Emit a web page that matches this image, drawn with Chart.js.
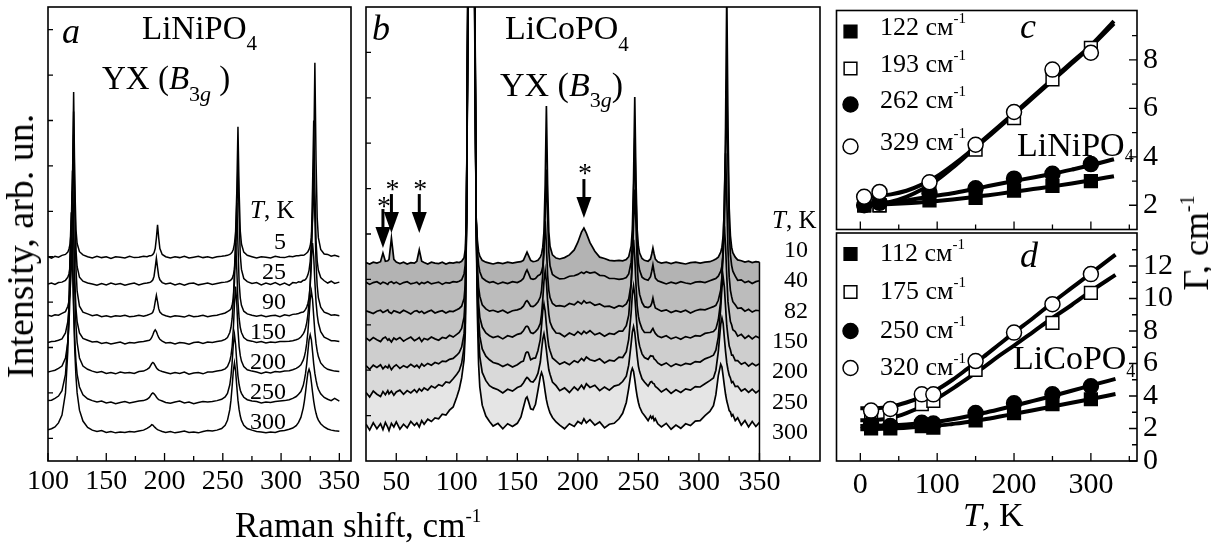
<!DOCTYPE html>
<html>
<head>
<meta charset="utf-8">
<script src="https://cdn.jsdelivr.net/npm/chart.js@4.4.1/dist/chart.umd.min.js"></script>
<style>
html, body { margin: 0; padding: 0; background: #fff; }
#wrap { position: relative; width: 1211px; height: 544px; overflow: hidden; background: #fff; }
canvas { position: absolute; top: 0; }
.txt { position: absolute; line-height: 1; white-space: nowrap; color: #000;
       font-family: 'Liberation Serif', 'Times New Roman', serif; }
.sub, .sup { position: relative; }
</style>
</head>
<body>
<div id="wrap">
  <canvas id="chA" width="362" height="544" style="left:0px"></canvas>
  <canvas id="chB" width="478" height="544" style="left:352px"></canvas>
  <canvas id="chD" width="385" height="544" style="left:826px"></canvas>
  <canvas id="chC" width="385" height="240" style="left:826px"></canvas>
</div>
<script>
// ---------- panel a : LiNiPO4 spectra ----------
const ramanA = [100,103,106,109,112,115,117,118,119,120,121,122,123,124,125,127,130,134,138,142,
  146,150,154,158,162,166,170,174,178,182,185,187,188,189,190,191,192,193,194,195,
  196,198,201,205,209,213,217,221,225,229,233,237,241,245,249,252,254,256,257,258,
  259,260,261,262,263,264,265,266,268,271,275,279,283,287,291,295,299,303,307,310,
  313,315,317,319,320,321,322,323,324,325,326,327,328,329,330,331,332,334,337,340,
  343,346,350];
const tempsA = [5, 25, 90, 150, 200, 250, 300];
const offsetA = [44.9, 39.0, 31.9, 26.0, 19.4, 12.8, 6.2];
const specA5 = [0.1,-0.2,0.2,0,0.4,0.6,1.1,1.8,3,6.1,
  16.3,36.4,16.3,6.1,3,1.2,0.5,0.1,-0.2,0.2,
  -0.1,0.1,-0.3,0.1,0,-0.2,0.2,-0.1,0,0.2,
  0.1,0.3,0.3,0.4,0.6,1,1.9,4.2,7.1,4.2,
  1.9,0.6,0.1,-0.2,0.1,-0.1,0.2,-0.2,0,0.2,
  -0.1,0.1,-0.2,0.1,0.2,0.3,0.4,0.6,0.8,1.1,
  1.7,2.9,5.7,14.4,28.7,14.4,5.7,2.9,1.1,0.4,
  0.1,-0.2,0.1,0,-0.2,0.2,0,-0.1,0.2,0.1,
  0.3,0.3,0.4,0.4,0.5,0.7,0.9,1.2,1.7,2.5,
  4.3,8.6,21.4,42.8,21.4,8.6,4.3,1.7,0.7,0.6,
  0.2,0.4,0.1];
const specA25 = [0,0.2,-0.1,0.3,0.4,0.8,1.5,2.2,3.8,7.6,
  19,38,19,7.6,3.8,1.5,0.6,0.2,0,-0.3,
  0.1,-0.2,0.2,-0.1,0.1,-0.3,0,0.2,-0.2,0.1,
  0.2,0.3,0.4,0.6,0.9,1.7,3.6,5.7,3.6,1.7,
  0.9,0.3,0,0.2,-0.2,0.1,-0.3,0.1,0.2,-0.2,
  0,0.2,-0.1,0.1,0.3,0.4,0.5,0.7,0.9,1.2,
  1.9,3.2,6.3,14.8,27,14.8,6.3,3.2,1.2,0.5,
  0.1,0.3,-0.2,0.2,-0.1,0.3,-0.2,0.2,-0.3,0.3,
  0.2,0.5,0.4,0.8,0.8,1,1.4,2,3,5,
  9.5,21.3,36,21.3,9.5,5,3,1.4,0.7,0.2,
  0.6,0.1,0.4];
const specA90 = [0.2,0,0.3,0.2,0.6,1,2.2,3.3,5.5,10.6,
  23.7,40,23.7,10.6,5.5,2.2,0.9,0.5,0.1,0.3,
  -0.1,0.1,-0.2,0.1,0,0.2,-0.1,0,0.2,0,
  0.2,0.4,0.5,0.6,0.9,1.65,3.2,4.6,3.2,1.65,
  0.9,0.4,0.1,-0.2,0.1,0,-0.2,0.2,-0.1,0,
  0.2,-0.1,0.1,0.2,0.5,0.7,1,1.3,1.6,2.4,
  4,7.4,15.7,25,15.7,7.4,4,2.4,1.1,0.5,
  0.2,0,0.2,-0.1,0.1,0.2,-0.1,0.3,0.1,0.4,
  0.5,0.6,0.8,0.9,1.15,1.5,2,2.8,4.1,6.7,
  11.7,21.6,30,21.6,11.7,6.7,4.1,2,0.9,0.6,
  0.2,0.3,0.1];
const specA150 = [0.1,0.3,0.4,0.6,0.9,2.2,4.7,7.6,13.7,26.3,
  38,26.3,13.7,7.6,4.7,2.2,1,0.6,0.2,0.3,
  -0.1,0.1,-0.2,0,0.2,-0.2,0.1,0,0.2,0.3,
  0.5,0.6,0.8,1.2,1.8,2.5,2.9,2.5,1.8,1.2,
  0.8,0.4,0,0.1,-0.2,0.1,0,-0.3,0.1,0.2,
  -0.1,0.2,0.1,0.3,0.5,0.8,1.2,2.3,3.4,5.4,
  9.2,16.3,22,16.3,9.2,5.4,3.4,2.3,1.2,0.6,
  0.4,0.1,0.3,0,0.2,0.1,0.3,0.3,0.4,0.5,
  0.7,0.9,1.3,2,2.5,3.3,4.4,6.2,9,13.4,
  19,22,19,13.4,9,6.2,4.4,2.5,1.3,0.9,
  0.5,0.5,0.3];
const specA200 = [0.2,0.4,0.6,1,1.5,3.3,6.7,10.6,17.9,30.6,
  40,30.6,17.9,10.6,6.7,3.3,1.5,0.8,0.4,0.1,
  0.3,-0.1,0.1,-0.2,0.2,0,0.1,-0.1,0.3,0.4,
  0.8,1.15,1.6,2.07,2.3,2.07,1.6,1.15,0.83,0.61,
  0.5,0.3,0.1,-0.2,0.1,-0.1,0.2,-0.3,0,0.1,
  -0.2,0.2,0.2,0.4,0.6,0.9,1.4,2.6,3.8,5.8,
  9.5,15.2,19,15.2,9.5,5.8,3.8,2.6,1.4,0.7,
  0.4,0.2,-0.1,0.2,0,0.3,0.2,0.4,0.5,0.7,
  1,1.3,1.8,2.8,3.6,4.8,6.5,9,12.5,16.2,
  18,16.2,12.5,9,6.5,4.8,3.6,2.2,1.3,0.8,
  0.6,0.4,0.3];
const specA250 = [0.5,0.6,1,1.5,2.7,6.3,13.8,22,34.2,42,
  34.2,22,13.8,9.1,6.3,3.5,1.8,0.9,0.5,0.2,
  0.4,0,0.2,-0.2,0.1,0.3,0,0.2,0.4,0.5,
  0.8,1.2,1.6,2,2.2,2,1.7,1.3,0.95,0.7,
  0.6,0.4,0.1,-0.1,0.2,0.4,0,0.2,-0.2,0.1,
  0.3,0.2,0.3,0.5,0.8,1.3,2.1,4,5.9,8.9,
  12.8,15,12.8,8.9,5.9,4,2.8,2.1,1.24,0.7,
  0.4,0.3,0,0.2,0.1,0.3,0.4,0.5,0.7,1,
  1.4,1.9,2.5,3.8,5,6.5,8.6,11.3,13.9,15,
  13.9,11.3,8.6,6.5,5,3.8,3,2,1.2,0.8,
  0.5,1,0.4];
const specA300 = [0.7,0.9,1.3,2.2,3.9,8.8,18,26.8,37.9,44,
  37.9,26.8,18,12.4,8.8,5,2.6,1.2,0.6,0.3,
  0.5,0.1,0.3,0,0.2,0.1,0.3,0.2,0.4,0.6,
  1,1.3,1.5,1.8,1.7,1.4,1.15,0.9,0.7,0.6,
  0.5,0.3,0.1,0.3,0,0.2,0.4,0.1,0.2,0,
  0.3,0.5,0.4,0.6,0.94,1.67,2.75,5.1,7.2,10.2,
  13.6,15.4,13.6,10.2,7.2,5.1,3.7,2.75,1.67,0.94,
  0.6,0.3,0.2,0,0.2,0.1,0.4,0.5,0.8,1.05,
  1.6,2.3,3.4,5.46,7,8.96,11.2,13.2,14,13.2,
  11.2,8.96,7,5.46,4.3,3.4,2.8,2,1.3,0.85,
  0.6,0.45,0.35];
const specsA = [specA5, specA25, specA90, specA150, specA200, specA250, specA300];
const xLabelsA = [100, 150, 200, 250, 300, 350];
const xMinorA = [125, 175, 225, 275, 325];
const yTicksA = [5, 15, 25, 35, 45, 55, 65, 75, 85, 95];

// ---------- panel b : LiCoPO4 spectra ----------
const ramanB = [25,28,31,34,37,39,41,43,44,46,48,50,53,56,59,62,65,67,69,71,
  73,76,79,82,85,88,91,94,97,100,102,104,106,107,108,110,112,114,116,117,
  118,119,121,124,127,130,134,138,142,146,150,153,155,157,158,159,161,163,165,167,
  169,170,171,172,173,174,175,176,177,179,182,185,189,193,197,200,203,205,207,210,
  214,218,222,226,230,234,237,240,242,244,245,246,247,248,249,250,251,253,255,258,
  260,261,262,263,264,266,269,273,277,281,285,289,293,297,301,305,309,312,314,316,
  318,319,320,321,322,323,324,325,326,327,328,330,332,335,338,341,344,347,350];
const tempsB = [10, 40, 82, 150, 200, 250, 300];
const offsetB = [43.6, 39.2, 32.8, 26.7, 20.5, 14.5, 7.3];
const specB10 = [0.1,-0.2,0.2,0,0.3,2.2,0.4,0.5,0.8,5.5,
  0.8,0.2,-0.1,0.2,-0.2,0.1,0,0.4,2.9,0.4,
  0.1,-0.2,0.2,0,-0.1,0.2,-0.2,0.1,0,0.2,
  0.1,0.4,1.2,3,10,80,200,80,10,5,
  2.5,1.5,0.6,0.2,0,-0.2,0.1,-0.1,0.2,0,
  0.2,0.3,0.6,1.8,2.4,1.8,0.6,0.3,0.4,0.6,
  1.3,2,3.5,6.9,17.3,34.6,17.3,6.9,3.7,1.8,
  1.1,0.9,1.2,1.8,2.9,4.6,6.8,7.7,6.6,4.5,
  2.6,1.3,1,0.6,0.5,0.6,0.5,0.8,1.4,3.7,
  7.3,18.3,36.6,18.3,7.3,3.7,2.2,1,0.6,0.4,
  0.9,2,3.3,2,0.9,0.3,0,0.2,-0.1,0.2,
  0,-0.2,0.1,0.2,0,0.2,0.3,0.6,0.9,1.3,
  2.4,3.5,6,12,30,60,30,12,6,3.5,
  2.3,1.3,0.7,0.5,0.2,0.4,0.1,0.3,0.2];
const specB40 = [0.2,-0.3,0.1,0.3,-0.2,0.2,0,-0.3,0.1,0.3,
  -0.1,0.2,-0.3,0.1,0.3,-0.2,0,0.2,-0.3,0.1,
  -0.1,0.3,-0.2,0,0.2,-0.3,0.1,0,0.3,0.2,
  0.4,0.7,2,4,14,90,200,90,14,7,
  4,2.5,1.1,0.5,0.1,0.3,-0.2,0.2,-0.1,0.3,
  0.1,0.5,1,2.4,2.9,2.3,1,0.8,1,1.6,
  1.9,2.5,3.6,6.8,15,25,15,6.9,3.8,1.9,
  1.3,0.9,1,1.5,1.6,1.9,2.4,2.1,2.5,2.2,
  2.4,1.7,1.6,1,1,0.8,0.9,1.2,2,4.6,
  8.5,19,32,19,8.5,4.4,2.8,1.3,0.9,0.6,
  1.4,2.6,4,2.4,1.1,0.5,0.2,-0.2,0.2,-0.1,
  0.3,0,-0.2,0.2,0.3,0.1,0.5,0.8,1,1.5,
  2.6,3.7,6.2,11.9,26.6,45,26.6,11.9,6.2,3.9,
  2.6,1.5,0.6,0.7,0.1,0.4,-0.1,0.3,0.5];
const specB82 = [0.3,0,-0.3,0.2,0.4,-0.1,0.2,0.5,0,-0.3,
  0.3,0.1,-0.2,0.4,0,-0.4,0.2,0.3,-0.1,0.2,
  -0.3,0.1,0.4,-0.2,0.1,0.3,-0.2,0.2,0.1,0.5,
  0.8,1.3,3,6,20,100,200,100,20,10,
  5.5,3.5,1.6,0.7,0.2,0.4,0,0.4,-0.2,0.3,
  0.5,0.8,1.3,2.3,2.5,2.2,1.3,1.2,1.6,2.2,
  3.3,4.8,8.2,14.8,20,14.6,8.1,4.8,3.2,1.9,
  1.3,1.4,1.2,1.9,1.6,2.3,1.8,2.5,2,2.2,
  1.5,1.8,1.2,1.3,0.9,1.4,1.2,1.8,2.9,6.2,
  10.8,19.6,27,19.4,10.5,6,3.9,2.1,1.2,1,
  1.3,1.9,3.1,1.8,0.9,0.6,0.2,0.5,-0.1,0.3,
  0,0.4,-0.2,0.3,0.6,0.5,0.9,1.2,1.5,2.6,
  4.9,7.7,13.7,25.2,35,25.2,13.7,7.7,4.8,3.4,
  2.3,1.6,0.8,0.9,0.2,0.6,0,0.4,0.3];
const specB150 = [0.4,-0.2,0.5,0,-0.4,0.3,0.6,-0.1,0.2,-0.5,
  0.4,0,0.5,-0.3,0.2,0.6,-0.2,0.1,0.5,-0.4,
  0.3,0,0.6,0.2,-0.1,0.5,0.3,1,0.6,1.2,
  1.6,2.5,5,9,26,110,200,110,26,14,
  8,5,2.8,1.5,0.9,0.5,0.8,0.2,0.9,0.6,
  1.2,1.4,2,2.9,3,2.8,1.6,1.4,1.8,2.4,
  3.6,5.6,8.8,12.9,15.2,12.8,8.5,5.6,3.9,2.6,
  1.5,1.4,0.7,1.5,1,1.8,1.2,1.9,1.4,2,
  1.1,1.5,0.8,1.4,1.2,1.9,1.9,3.1,5.4,12.2,
  18.4,22,18.2,12.1,7.5,5.2,3.9,2.4,1.6,1.6,
  1.6,2.1,2.5,1.9,1.4,0.8,0.5,0.9,0.2,0.6,
  0.1,0.7,0.4,0.9,0.8,1.4,1.6,1.8,2.4,4.4,
  8.5,13.7,20.7,25,20.7,13.9,8.4,6.1,4,3.3,
  2.2,1.8,0.8,1.2,0.3,0.9,0.2,0.8,0.4];
const specB200 = [0.5,-0.3,0.6,0.1,0.7,-0.2,0.4,0,0.6,-0.4,
  0.3,0.7,-0.1,0.5,0.1,0.8,0.2,0.6,0,0.9,
  0.4,1,0.6,1.2,0.9,1.5,1.4,1.9,2.1,2.8,
  3.4,4.6,7.5,12,32,120,200,120,32,18,
  11,7,4.2,2.6,1.8,1.2,0.9,0.3,0.8,0.2,
  0.7,1.3,1.5,3.3,3.5,3.4,1.8,2.1,2.2,3.8,
  6.3,9.3,12.6,14.1,12.5,9.5,6.8,4.7,3.8,2.2,
  1.5,0.8,1.3,0.7,1.6,1.2,2.1,1.6,2.4,1.8,
  1.5,2,1.1,1.7,1.5,2.4,2.3,3.6,6.3,12.1,
  16.2,18,16,12,8.6,6.2,4.8,3.1,2.3,1.9,
  2.7,2.6,2.6,2,1.8,1.1,0.6,1.1,0.3,0.9,
  0.5,1,0.8,1.4,1.3,2,2.4,2.8,3.9,6.8,
  13.2,17.7,20,17.8,13.4,9.3,6.9,4.8,4,2.8,
  2.8,1.6,1.6,0.8,1.2,0.4,1,0.5,0.9];
const specB250 = [0.6,-0.4,0.9,0.2,-0.3,0.8,0.1,1,0.3,0.9,
  0,0.7,1.1,0.2,1,0.5,1.2,0.6,1.4,0.9,
  1.6,1.1,2,1.6,2.3,2,2.9,2.7,3.6,4.6,
  5.4,7,10.5,16,38,130,200,130,38,22,
  13,8.5,5,3.2,2.1,1.6,1.2,0.5,1.3,0.9,
  1.7,2,2.7,3.6,3.9,3.7,3,2.9,3.6,4.8,
  7.3,9.9,12.3,13.5,12,9.9,7.6,5.6,4.6,2.9,
  2.1,1,1.6,0.6,1.8,1.1,2.2,1.4,2.5,1.7,
  2.2,1,1.8,1.1,2,2.3,3,4.2,6.6,11.3,
  13.9,15.1,13.8,11.2,8.6,6.4,5.2,3.6,2.9,2,
  2.9,3,2.6,2.5,1.9,1.5,0.7,1.4,0.4,1.2,
  0.6,1.4,1.1,1.9,1.8,2.5,3.2,3.8,5.5,9.6,
  15.6,17,15.8,12.6,9.6,7.1,5.6,4.4,3.8,2.8,
  3,1.9,2,0.9,1.4,0.6,1.3,0.5,1.1];
const specB300 = [0.8,-0.5,1.1,-0.2,0.9,-0.4,1.2,0.1,-0.6,1,
  0.2,1.3,-0.3,0.8,0,1.4,0.5,1.1,0.2,1.6,
  0.8,1.9,1.4,2.2,2,3,2.8,3.9,4.6,6.8,
  8.5,11,15,21,45,140,200,140,45,25,
  14,9,5,2.6,1.4,0.4,1,-0.2,0.9,0.3,
  1,2.4,4.5,6.5,6.8,6,4.2,4,5.2,8.2,
  11.3,12.2,11.4,9.8,7.9,6.2,5,4.1,3.3,2.3,
  1.3,0.6,-0.2,0.9,0.3,1.4,0.9,2,1.1,1.8,
  0.6,1.3,0,0.8,1,2,3.2,5.6,8.7,12.3,
  13.1,12.4,10.6,8.6,6.9,5.6,4.6,3.4,2.7,1.6,
  2.6,2.1,2.5,1.6,2,0.9,0.2,1,-0.3,0.6,
  -0.1,0.9,0.5,1.5,1.6,2.7,3.6,4.9,7.3,11.5,
  14,13.4,11.4,9.3,7.4,5.9,4.9,3.8,3.5,2.6,
  2.9,1.6,2.2,0.6,1.6,0.2,1.4,0.3,1.2];
const specsB = [specB10, specB40, specB82, specB150, specB200, specB250, specB300];
const fillsB = ['#b3b3b3', '#bcbcbc', '#c5c5c5', '#cecece', '#d9d9d9', '#e5e5e5'];
const xLabelsB = [50, 100, 150, 200, 250, 300, 350];
const xMinorB = [75, 125, 175, 225, 275, 325, 375];
const yTicksB = [10, 20, 30, 40, 50, 60, 70, 80, 90];
// arrows marking the extra lines (*)
const arrowAt = [39, 46, 69, 205];
const arrowTip = [46.9, 50.2, 50.2, 53.5];
const arrowTail = [55.5, 58.8, 58.8, 62.1];
const starAt = [57.5, 61.2, 61.2, 64.8];

// ---------- panels c, d : linewidth vs T ----------
const tempC = [5, 25, 90, 150, 200, 250, 300];
const modesC = [122, 193, 262, 329];
const gam122 = [2.0, 2.0, 2.2, 2.3, 2.6, 2.8, 3.0];
const gam193 = [2.0, 2.0, 2.7, 4.3, 5.6, 7.2, 8.5];
const gam262 = [2.0, 2.1, 2.5, 2.7, 3.1, 3.3, 3.7];
const gam329 = [2.35, 2.55, 2.95, 4.5, 5.85, 7.6, 8.3];
const fitTc = [5, 20, 40, 60, 80, 100, 120, 140, 160, 180, 200, 225, 250, 275, 300, 330];
const fit329c = [2.35, 2.37, 2.45, 2.6, 2.85, 3.2, 3.65, 4.15, 4.7, 5.25, 5.8, 6.5, 7.2, 7.9, 8.6, 9.6];
const fit193c = [2.05, 2.08, 2.15, 2.35, 2.65, 3.05, 3.55, 4.1, 4.65, 5.2, 5.75, 6.45, 7.15, 7.85, 8.55, 9.5];
const fit262c = [2.05, 2.08, 2.12, 2.2, 2.3, 2.4, 2.5, 2.62, 2.75, 2.88, 3.0, 3.15, 3.3, 3.47, 3.65, 3.9];
const fit122c = [2.0, 2.02, 2.05, 2.08, 2.12, 2.18, 2.24, 2.31, 2.39, 2.47, 2.56, 2.67, 2.78, 2.9, 3.03, 3.2];

const tempD = [14, 39, 80, 95, 150, 200, 250, 300];
const modesD = [112, 175, 250, 320];
const gam112 = [2.0, 2.0, 2.15, 2.05, 2.5, 2.95, 3.5, 3.8];
const gam175 = [2.8, 2.65, 3.5, 3.7, 5.6, null, 8.5, 10.35];
const gam250 = [2.3, 2.15, 2.35, 2.3, 2.95, 3.55, 4.1, 4.6];
const gam320 = [3.1, 3.2, 4.1, 4.1, 6.15, 7.9, 9.65, 11.5];
const fitTd = [0, 20, 40, 60, 80, 100, 120, 140, 160, 180, 200, 225, 250, 275, 300, 332];
const fit320d = [3.25, 3.25, 3.35, 3.6, 3.95, 4.4, 5.0, 5.7, 6.4, 7.15, 7.9, 8.8, 9.75, 10.65, 11.55, 12.7];
const fit175d = [2.5, 2.52, 2.65, 2.95, 3.35, 3.85, 4.45, 5.1, 5.75, 6.45, 7.1, 7.95, 8.8, 9.6, 10.45, 11.45];
const fit250d = [2.15, 2.17, 2.2, 2.25, 2.32, 2.42, 2.57, 2.75, 2.95, 3.17, 3.4, 3.7, 4.0, 4.32, 4.65, 5.05];
const fit112d = [1.95, 1.97, 2.0, 2.04, 2.1, 2.17, 2.28, 2.4, 2.55, 2.72, 2.9, 3.12, 3.35, 3.58, 3.82, 4.12];

const tMajor = [0, 100, 200, 300];
const tMinor = [50, 150, 250, 350];
const gTicksC = [2, 4, 6, 8];
const gMinorC = [3, 5, 7, 9];
const gTicksD = [0, 2, 4, 6, 8, 10, 12];
const gMinorD = [1, 3, 5, 7, 9, 11, 13];

// ---------- helpers ----------
const SERIF = "'Liberation Serif', 'Times New Roman', serif";
Chart.defaults.font.family = SERIF;
Chart.defaults.color = '#000';
const tickFont = { family: SERIF, size: 28, lineHeight: 1 };
const tickFontCD = { family: SERIF, size: 30, lineHeight: 1 };

// box + inward tick marks
const framePlugin = {
  id: 'frame',
  afterDraw(chart, args, o) {
    const ctx = chart.ctx, ar = chart.chartArea;
    const sx = chart.scales.x, sy = chart.scales.y;
    ctx.save();
    ctx.strokeStyle = '#000';
    ctx.lineWidth = 1.6;
    ctx.strokeRect(ar.left, ar.top, ar.right - ar.left, ar.bottom - ar.top);
    ctx.lineWidth = 1.3;
    ctx.beginPath();
    const xt = (vals, len) => vals.forEach(v => {
      const p = sx.getPixelForValue(v);
      ctx.moveTo(p, ar.bottom); ctx.lineTo(p, ar.bottom - len);
    });
    const yt = (vals, len) => vals.forEach(v => {
      const p = sy.getPixelForValue(v);
      if (o.ySide === 'right') { ctx.moveTo(ar.right, p); ctx.lineTo(ar.right - len, p); }
      else { ctx.moveTo(ar.left, p); ctx.lineTo(ar.left + len, p); }
    });
    xt(o.xMajor || [], 8);
    xt(o.xMinor || [], 5);
    yt(o.yMajor || [], o.yLen || 8);
    yt(o.yMinor || [], 5);
    ctx.stroke();
    ctx.restore();
  }
};

const arrowPlugin = {
  id: 'arrows',
  afterDatasetsDraw(chart) {
    const ctx = chart.ctx, sx = chart.scales.x, sy = chart.scales.y;
    ctx.save();
    ctx.fillStyle = '#000';
    ctx.strokeStyle = '#000';
    ctx.font = '28px ' + SERIF;
    ctx.textAlign = 'center';
    arrowAt.forEach((v, i) => {
      const x = sx.getPixelForValue(v);
      const tip = sy.getPixelForValue(arrowTip[i]);
      const tail = sy.getPixelForValue(arrowTail[i]);
      ctx.lineWidth = 3;
      ctx.beginPath(); ctx.moveTo(x, tail); ctx.lineTo(x, tip - 18); ctx.stroke();
      ctx.beginPath();
      ctx.moveTo(x - 7.5, tip - 21); ctx.lineTo(x + 7.5, tip - 21); ctx.lineTo(x, tip);
      ctx.closePath(); ctx.fill();
      ctx.fillText('*', x + 1, sy.getPixelForValue(starAt[i]) + 15);
    });
    ctx.restore();
  }
};

const legendMarks = {
  id: 'legendMarks',
  afterDraw(chart, args, o) {
    const ctx = chart.ctx, ar = chart.chartArea;
    ctx.save();
    o.styles.forEach((st, i) => {
      const x = ar.left + 14, y = ar.top + o.rows[i];
      ctx.beginPath();
      if (st.pointStyle === 'rect') {
        const h = st.pointRadius * Math.SQRT1_2;
        ctx.rect(x - h, y - h, 2 * h, 2 * h);
      } else {
        ctx.arc(x, y, st.pointRadius, 0, Math.PI * 2);
      }
      ctx.fillStyle = st.pointBackgroundColor;
      ctx.fill();
      ctx.lineWidth = 1.5;
      ctx.strokeStyle = '#000';
      ctx.stroke();
    });
    ctx.restore();
  }
};

function xAxis(min, max, labels, height, pad, font) {
  return {
    type: 'linear', min: min, max: max,
    afterBuildTicks: s => { s.ticks = labels.map(v => ({ value: v })); },
    afterFit: s => { s.height = height; s.paddingLeft = 0; s.paddingRight = 0; },
    grid: { display: false, drawTicks: false },
    border: { display: false },
    ticks: { font: font || tickFont, color: '#000', padding: pad, maxRotation: 0, autoSkip: false }
  };
}
function gammaAxis(min, max, labels) {
  return {
    type: 'linear', position: 'right', min: min, max: max,
    afterBuildTicks: s => { s.ticks = labels.map(v => ({ value: v })); },
    afterFit: s => { s.width = 74; s.paddingTop = 0; s.paddingBottom = 0; },
    grid: { display: false, drawTicks: false },
    border: { display: false },
    ticks: { font: tickFontCD, color: '#000', padding: 6, autoSkip: false }
  };
}
const noTips = { legend: { display: false }, tooltip: { enabled: false } };

// ---------- panel a ----------
new Chart(document.getElementById('chA'), {
  type: 'line',
  data: {
    datasets: specsA.map((s, i) => ({
      data: ramanA.map((x, j) => ({ x: x, y: s[j] + offsetA[i] })),
      borderColor: '#000', borderWidth: 1.5, pointRadius: 0, fill: false, tension: 0
    }))
  },
  options: {
    responsive: false, animation: false, events: [],
    layout: { padding: { left: 48, right: 11, top: 7, bottom: 0 } },
    plugins: Object.assign({}, noTips, {
      frame: { xMajor: xLabelsA, xMinor: xMinorA, yMajor: yTicksA, yLen: 5 }
    }),
    scales: {
      x: xAxis(100, 360, xLabelsA, 83, 7),
      y: { type: 'linear', min: 0, max: 100, display: false }
    }
  },
  plugins: [framePlugin]
});

// ---------- panel b ----------
const dsB = specsB.map((s, i) => ({
  data: ramanB.map((x, j) => ({ x: x, y: s[j] + offsetB[i] })),
  borderColor: '#000', borderWidth: 1.7, pointRadius: 0, tension: 0,
  fill: i < specsB.length - 1 ? '+1' : false,
  backgroundColor: fillsB[i] || '#fff'
}));
// right edge of the measured range
const lastB = ramanB[ramanB.length - 1];
dsB.push({
  data: [{ x: lastB, y: 0 }, { x: lastB, y: offsetB[0] + specB10[specB10.length - 1] }],
  borderColor: '#000', borderWidth: 1.5, pointRadius: 0, fill: false
});
new Chart(document.getElementById('chB'), {
  type: 'line',
  data: { datasets: dsB },
  options: {
    responsive: false, animation: false, events: [],
    layout: { padding: { left: 14, right: 10, top: 7, bottom: 0 } },
    plugins: Object.assign({}, noTips, {
      filler: { propagate: false, drawTime: 'beforeDatasetsDraw' },
      frame: { xMajor: xLabelsB, xMinor: xMinorB, yMajor: yTicksB, yLen: 5 }
    }),
    scales: {
      x: xAxis(25, 400, xLabelsB, 83, 8),
      y: { type: 'linear', min: 0, max: 100, display: false }
    }
  },
  plugins: [framePlugin, arrowPlugin]
});

// ---------- panels c, d ----------
const FILL_SQ = { pointStyle: 'rect', pointRadius: 9, pointBackgroundColor: '#000' };
const OPEN_SQ = { pointStyle: 'rect', pointRadius: 9, pointBackgroundColor: '#fff' };
const FILL_CI = { pointStyle: 'circle', pointRadius: 7.5, pointBackgroundColor: '#000' };
const OPEN_CI = { pointStyle: 'circle', pointRadius: 7.5, pointBackgroundColor: '#fff' };

function markerSet(xs, ys, style) {
  return Object.assign({
    data: xs.map((x, i) => ({ x: x, y: ys[i] })),
    showLine: false, pointBorderColor: '#000', pointBorderWidth: 1.5
  }, style);
}
function fitSet(xs, ys) {
  return {
    data: xs.map((x, i) => ({ x: x, y: ys[i] })),
    showLine: true, borderColor: '#000', borderWidth: 4, pointRadius: 0,
    fill: false, cubicInterpolationMode: 'monotone'
  };
}

new Chart(document.getElementById('chD'), {
  type: 'scatter',
  data: {
    datasets: [
      markerSet(tempD, gam320, OPEN_CI), markerSet(tempD, gam250, FILL_CI),
      markerSet(tempD, gam175, OPEN_SQ), markerSet(tempD, gam112, FILL_SQ),
      fitSet(fitTd, fit320d), fitSet(fitTd, fit175d), fitSet(fitTd, fit250d), fitSet(fitTd, fit112d)
    ]
  },
  options: {
    responsive: false, animation: false, events: [],
    layout: { padding: { left: 8, right: 0, top: 233, bottom: 0 } },
    plugins: Object.assign({}, noTips, {
      frame: { xMajor: tMajor, xMinor: tMinor, yMajor: gTicksD, yMinor: gMinorD, ySide: 'right' },
      legendMarks: { rows: [21, 59, 98, 135], styles: [FILL_SQ, OPEN_SQ, FILL_CI, OPEN_CI] }
    }),
    scales: {
      x: xAxis(-31, 360, tMajor, 83, 9, tickFontCD),
      y: gammaAxis(0, 14.03, gTicksD)
    }
  },
  plugins: [framePlugin, legendMarks]
});

new Chart(document.getElementById('chC'), {
  type: 'scatter',
  data: {
    datasets: [
      markerSet(tempC, gam329, OPEN_CI), markerSet(tempC, gam262, FILL_CI),
      markerSet(tempC, gam193, OPEN_SQ), markerSet(tempC, gam122, FILL_SQ),
      fitSet(fitTc, fit329c), fitSet(fitTc, fit193c), fitSet(fitTc, fit262c), fitSet(fitTc, fit122c)
    ]
  },
  options: {
    responsive: false, animation: false, events: [],
    layout: { padding: { left: 8, right: 0, top: 7, bottom: 7 } },
    plugins: Object.assign({}, noTips, {
      frame: { xMajor: tMajor, xMinor: tMinor, yMajor: gTicksC, yMinor: gMinorC, ySide: 'right' },
      legendMarks: { rows: [21, 58, 94, 136], styles: [FILL_SQ, OPEN_SQ, FILL_CI, OPEN_CI] }
    }),
    scales: {
      x: { type: 'linear', min: -31, max: 360, display: false },
      y: gammaAxis(1, 10.04, gTicksC)
    }
  },
  plugins: [framePlugin, legendMarks]
});

// ---------- text ----------
const wrap = document.getElementById('wrap');
function put(html, x, base, size, align) {
  const d = document.createElement('div');
  d.className = 'txt';
  d.innerHTML = html;
  d.style.fontSize = size + 'px';
  d.style.left = x + 'px';
  d.style.top = (base - 0.84 * size) + 'px';
  if (align === 'right') d.style.transform = 'translateX(-100%)';
  if (align === 'center') d.style.transform = 'translateX(-50%)';
  wrap.appendChild(d);
}
function putRot(html, cx, cy, size) {
  const d = document.createElement('div');
  d.className = 'txt';
  d.innerHTML = html;
  d.style.fontSize = size + 'px';
  d.style.left = cx + 'px';
  d.style.top = cy + 'px';
  d.style.transform = 'translate(-50%,-50%) rotate(-90deg)';
  wrap.appendChild(d);
}
const sub = (t, size, dy) => `<span class="sub" style="font-size:${size}px;top:${dy}px">${t}</span>`;
const sup = (t, size, dy) => `<span class="sup" style="font-size:${size}px;top:-${dy}px">${t}</span>`;

// panel a
put('<i>a</i>', 62, 43, 36);
put('LiNiPO' + sub('4', 21, 11), 142, 40, 33);
put('YX (<i>B</i>' + sub('3<i>g</i>', 22, 12) + ' )', 102, 90, 33);
put('<i>T</i>, K', 250, 218, 25);
tempsA.forEach((t, i) => put(String(t), 286, 249 + 30 * i, 24, 'right'));

// panel b
put('<i>b</i>', 372, 40, 36);
put('LiCoPO' + sub('4', 21, 12), 505, 40, 34);
put('YX (<i>B</i>' + sub('3<i>g</i>', 22, 11) + ')', 500, 97, 34);
put('<i>T</i>, K', 772, 228, 25);
tempsB.forEach((t, i) => put(String(t), 808, 257 + 30.4 * i, 24, 'right'));

// panels c, d
put('<i>c</i>', 1020, 38, 36);
put('<i>d</i>', 1020, 267, 36);
const rowsC = [28, 65, 101, 143];
const rowsD = [254, 292, 331, 368];
modesC.forEach((m, i) => put(m + ' см' + sup('-1', 15, 12), 880, rowsC[i] + 8, 26));
modesD.forEach((m, i) => put(m + ' см' + sup('-1', 15, 12), 880, rowsD[i] + 8, 26));
put('LiNiPO' + sub('4', 18, 6), 1017, 157, 34);
put('LiCoPO' + sub('4', 18, 8), 1013, 370, 34);

// axis titles
putRot('Intensity, arb. un.', 20, 246, 38);
put('Raman shift, cm' + sup('-1', 19, 15), 235, 537, 35);
put('<i>T</i>, K', 963, 527, 34);
putRot('Γ, cm' + sup('-1', 20, 14), 1196, 243, 36);
</script>
</body>
</html>
